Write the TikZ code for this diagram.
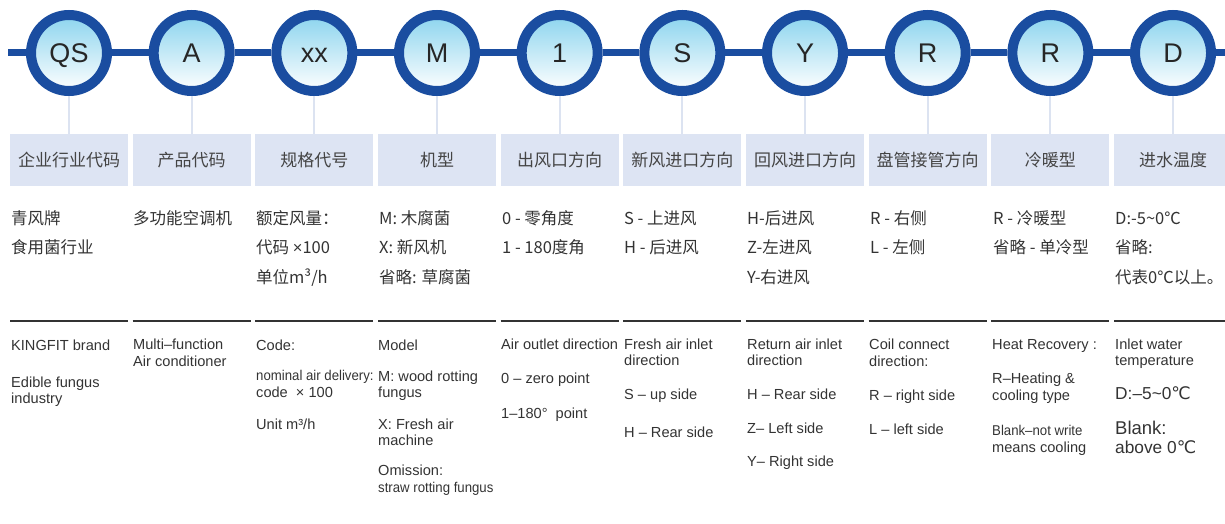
\documentclass[tikz,border=0pt]{standalone}
\usepackage{fontspec}
\setmainfont{Liberation Sans}
\newfontfamily\cjk{Noto Sans CJK SC}
\newfontfamily\lib{Liberation Sans}
\newfontfamily\dvs{DejaVu Sans}
\newfontfamily\cond[FakeStretch=0.93]{Liberation Sans}
\definecolor{ring}{HTML}{1A4DA0}
\definecolor{hdr}{HTML}{DDE4F3}
\definecolor{conn}{HTML}{DCE3F1}
\definecolor{sky}{HTML}{8BD4EE}
\definecolor{txt}{HTML}{333333}
\definecolor{htxt}{HTML}{444444}
\newcommand\degc{{\dvs ℃}}
\newcommand\tld{{\lib\char"007E}}
\begin{document}
\begin{tikzpicture}[x=1pt,y=-1pt,
  codecircle/.style={circle,draw=ring,line width=10pt,top color=sky,bottom color=white,
    minimum size=76pt,inner sep=0pt,text height=19.3pt,text depth=0pt,
    font=\fontsize{27}{27}\selectfont,text=black!85},
  headbox/.style={rectangle,fill=hdr,minimum width=118pt,minimum height=52pt,inner sep=0pt,
    font=\cjk\fontsize{17}{17}\selectfont,text=htxt},
  cn/.style={anchor=base west,inner sep=0pt,font=\cjk\fontsize{16.5}{16.5}\selectfont,text=txt},
  en/.style={anchor=base west,inner sep=0pt,font=\fontsize{14.6}{14.6}\selectfont,text=txt},
  ens/.style={anchor=base west,inner sep=0pt,font=\cond\fontsize{14.2}{14.2}\selectfont,text=txt},
  enb/.style={anchor=base west,inner sep=0pt,font=\fontsize{17.3}{17.3}\selectfont,text=txt},
  rule/.style={draw=txt,line width=1.1pt},
  vconn/.style={draw=conn,line width=2pt},
  bar/.style={draw=ring,line width=7pt}]
\useasboundingbox (0,0) rectangle (1225,524);
% top line
\coordinate (lstart) at (8,53);
\coordinate (lend) at (1230,53);
% circles
\foreach \i/\t in {1/QS,2/A,3/xx,4/M,5/1,6/S,7/Y,8/R,9/R,10/D}{
  \pgfmathsetmacro\xx{69+122.67*(\i-1)}
  \node[codecircle] (c\i) at (\xx,53) {\t};
}
\draw[bar] (lstart) -- (c1) -- (c2) -- (c3) -- (c4) -- (c5) -- (c6) -- (c7) -- (c8) -- (c9) -- (c10) -- (lend);
% header boxes
\foreach \i/\t in {1/企业行业代码,2/产品代码,3/规格代号,4/机型,5/出风口方向,6/新风进口方向,7/回风进口方向,8/盘管接管方向,9/冷暖型,10/进水温度}{
  \pgfmathsetmacro\xx{69+122.67*(\i-1)}
  \node[headbox] (h\i) at (\xx,160) {\t};
  \draw[vconn] (c\i.south) -- (h\i.north);
  \coordinate (ra\i) at (\xx-59,321);
  \coordinate (rb\i) at (\xx+59,321);
  \draw[rule] (ra\i) -- (rb\i);
}
% Chinese details
\node[cn] (z1a) at (11,224) {青风牌};
\node[cn] (z1b) at (11,253) {食用菌行业};
\node[cn] (z2a) at (133,224) {多功能空调机};
\node[cn] (z3a) at (256,224) {额定风量：};
\node[cn] (z3b) at (256,253) {代码 {\lib ×}100};
\node[cn] (z3c) at (256,283) {单位m³/h};
\node[cn] (z4a) at (379,224) {M: 木腐菌};
\node[cn] (z4b) at (379,253) {X: 新风机};
\node[cn] (z4c) at (379,283) {省略: 草腐菌};
\node[cn] (z5a) at (502,224) {0 - 零角度};
\node[cn] (z5b) at (502,253) {1 - 180度角};
\node[cn] (z6a) at (624,224) {S - 上进风};
\node[cn] (z6b) at (624,253) {H - 后进风};
\node[cn] (z7a) at (747,224) {H-后进风};
\node[cn] (z7b) at (747,253) {Z-左进风};
\node[cn] (z7c) at (747,283) {Y-右进风};
\node[cn] (z8a) at (870,224) {R - 右侧};
\node[cn] (z8b) at (870,253) {L - 左侧};
\node[cn] (z9a) at (993,224) {R - 冷暖型};
\node[cn] (z9b) at (993,253) {省略 - 单冷型};
\node[cn] (z10a) at (1115,224) {D:-5\char"007E 0℃};
\node[cn] (z10b) at (1115,253) {省略:};
\node[cn] (z10c) at (1115,283) {代表0℃以上。};
% English details
\node[en] (e1a) at (11,350.5) {KINGFIT brand};
\node[en] (e1b) at (11,387) {Edible fungus};
\node[en] (e1c) at (11,403.5) {industry};
\node[en] (e2a) at (133,349) {Multi–function};
\node[en] (e2b) at (133,366) {Air conditioner};
\node[en] (e3a) at (256,350.5) {Code:};
\node[ens] (e3b) at (256,380.5) {nominal air delivery:};
\node[en] (e3c) at (256,397) {code \ × 100};
\node[en] (e3d) at (256,429.5) {Unit m³/h};
\node[en] (e4a) at (378,350) {Model};
\node[en] (e4b) at (378,381) {M: wood rotting};
\node[en] (e4c) at (378,397) {fungus};
\node[en] (e4d) at (378,429.5) {X: Fresh air};
\node[en] (e4e) at (378,445.5) {machine};
\node[en] (e4f) at (378,475.5) {Omission:};
\node[ens] (e4g) at (378,492) {straw rotting fungus};
\node[en] (e5a) at (501,349) {Air outlet direction};
\node[en] (e5b) at (501,383.5) {0 – zero point};
\node[en] (e5c) at (501,418) {1–180° \ point};
\node[en] (e6a) at (624,349) {Fresh air inlet};
\node[en] (e6b) at (624,365) {direction};
\node[en] (e6c) at (624,399.5) {S – up side};
\node[en] (e6d) at (624,437) {H – Rear side};
\node[en] (e7a) at (747,349) {Return air inlet};
\node[en] (e7b) at (747,365) {direction};
\node[en] (e7c) at (747,399.5) {H – Rear side};
\node[en] (e7d) at (747,433.5) {Z– Left side};
\node[en] (e7e) at (747,466.5) {Y– Right side};
\node[en] (e8a) at (869,349) {Coil connect};
\node[en] (e8b) at (869,366) {direction:};
\node[en] (e8c) at (869,400.5) {R – right side};
\node[en] (e8d) at (869,434.5) {L – left side};
\node[en] (e9a) at (992,349) {Heat Recovery :};
\node[en] (e9b) at (992,383.5) {R–Heating \&};
\node[en] (e9c) at (992,400.5) {cooling type};
\node[ens] (e9d) at (992,435.5) {Blank–not write};
\node[en] (e9e) at (992,452) {means cooling};
\node[en] (e10a) at (1115,349) {Inlet water};
\node[en] (e10b) at (1115,365.5) {temperature};
\node[enb] (e10c) at (1115,399) {D:–5\tld 0\degc};
\node[enb,font=\fontsize{18.5}{18.5}\selectfont] (e10d) at (1115,434.5) {Blank:};
\node[enb] (e10e) at (1115,453.5) {above 0\degc};
\end{tikzpicture}
\end{document}
